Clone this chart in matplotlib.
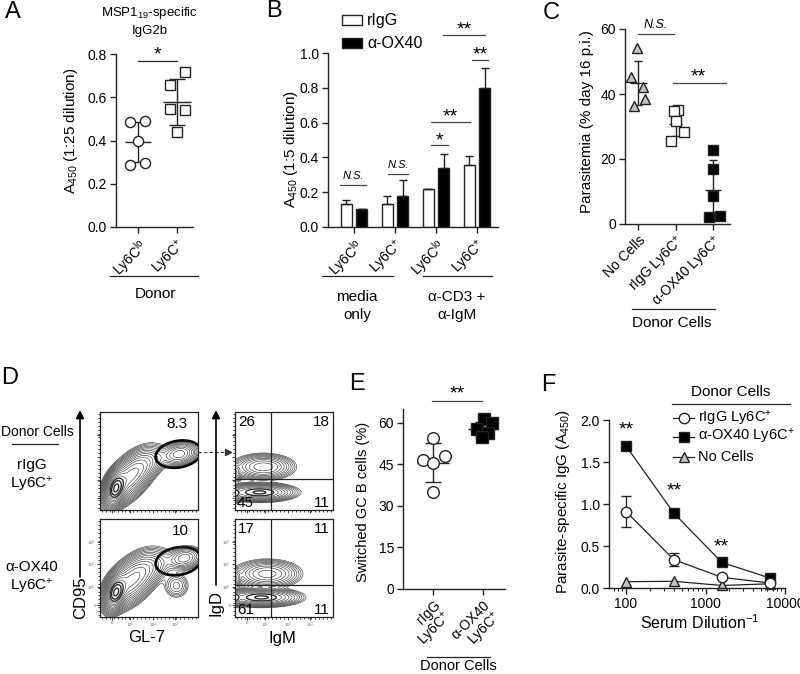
import numpy as np
import matplotlib
matplotlib.use('Agg')
import matplotlib.pyplot as plt
from matplotlib.patches import Rectangle, Ellipse

plt.rcParams['font.family'] = ['Liberation Sans', 'DejaVu Sans']
plt.rcParams['mathtext.fontset'] = 'custom'
plt.rcParams['mathtext.rm'] = 'Liberation Sans'
plt.rcParams['mathtext.it'] = 'Liberation Sans:italic'
plt.rcParams['mathtext.bf'] = 'Liberation Sans:bold'

# ---------------- DATA ----------------
# Panel A
a_groups = [r'Ly6C$^{\mathrm{lo}}$', r'Ly6C$^{+}$']
a_lo = [0.487, 0.490, 0.400, 0.286, 0.297]
a_hi = [0.715, 0.657, 0.546, 0.542, 0.441]
a_mean = [0.392, 0.578]
a_sd = [0.092, 0.106]

# Panel B
b_groups = [r'Ly6C$^{\mathrm{lo}}$', r'Ly6C$^{+}$', r'Ly6C$^{\mathrm{lo}}$', r'Ly6C$^{+}$']
b_rigg = [0.13, 0.13, 0.216, 0.356]
b_rigg_err = [0.027, 0.046, 0.004, 0.052]
b_ox40 = [0.105, 0.18, 0.341, 0.797]
b_ox40_err = [0.0, 0.092, 0.077, 0.119]

# Panel C
c_groups = ['No Cells', r'rIgG Ly6C$^{+}$', r'α-OX40 Ly6C$^{+}$']
c_nocells = [54.2, 45.2, 42.0, 38.6, 36.4]
c_rigg = [35.2, 34.7, 31.8, 28.2, 25.6]
c_ox40 = [22.8, 17.0, 8.7, 2.3, 2.5]
c_mean = [43.4, 30.9, 10.6]
c_sd = [6.9, 3.8, 9.0]

# Panel D (gate percentages)
d_gate = ['8.3', '10']
d_quad_top = [['26', '18'], ['45', '11']]
d_quad_bot = [['17', '11'], ['61', '11']]

# Panel E
e_groups = ['rIgG\n' + r'Ly6C$^{+}$', 'α-OX40\n' + r'Ly6C$^{+}$']
e_rigg = [54.4, 46.6, 48.0, 45.4, 35.0]
e_ox40 = [61.5, 60.0, 57.8, 56.5, 54.8]
e_mean = [45.6, 57.6]
e_sd = [7.0, 2.6]

# Panel F
f_dil = [100, 400, 1600, 6400]
f_rigg = [0.91, 0.337, 0.127, 0.06]
f_rigg_err = [0.18, 0.075, 0.02, 0.01]
f_ox40 = [1.69, 0.89, 0.305, 0.12]
f_nocells = [0.075, 0.08, 0.03, 0.05]

# jitter (horizontal spread of points, in category units)
a_jit = [[-0.21, 0.19, 0.0, -0.21, 0.19], [0.2, -0.19, -0.19, 0.2, 0.0]]
c_jit = [[-0.03, -0.2, 0.13, 0.19, -0.1], [0.07, -0.05, 0.0, 0.21, -0.13], [0.0, 0.0, 0.0, -0.12, 0.19]]
e_jit = [[0.0, -0.2, 0.23, 0.0, 0.0], [0.02, 0.17, -0.12, 0.1, -0.02]]

# ---------------- FIGURE ----------------
W, H = 800, 674
fig = plt.figure(figsize=(8, 6.74), dpi=100)
INK = '#222222'
TICK_FS = 10
LAB_FS = 11
STAR_FS = 14


def add_ax(x0, y0, x1, y1):
    return fig.add_axes([x0 / W, 1 - y1 / H, (x1 - x0) / W, (y1 - y0) / H])


def prism(ax):
    for s in ['top', 'right']:
        ax.spines[s].set_visible(False)
    for s in ['left', 'bottom']:
        ax.spines[s].set_linewidth(1.0)
        ax.spines[s].set_color(INK)
    ax.tick_params(direction='out', length=4.5, width=1.0, color=INK,
                   labelsize=TICK_FS, pad=2, labelcolor='black')
    ax.set_facecolor('none')


def stars(ax, x, y, lab, dy=4):
    ax.annotate(lab, xy=(x, y), xytext=(0, dy), textcoords='offset points',
                ha='center', va='center', fontsize=STAR_FS, annotation_clip=False)


def dotplot(ax, groups_vals, jits, means, sds, markers, faces, ms, halfw, caps):
    for i, vals in enumerate(groups_vals):
        ax.errorbar(i, means[i], yerr=sds[i], color=INK, lw=1, capsize=caps[i],
                    capthick=1, zorder=2)
        ax.hlines(means[i], i - halfw[i], i + halfw[i], color=INK, lw=1, zorder=2)
        ax.plot(np.array(jits[i]) + i, vals, ls='none', marker=markers[i], ms=ms[i],
                mfc=faces[i], mec=INK, mew=1, clip_on=False, zorder=3)


# ---- Panel A
axA = add_ax(116, 54, 193, 227)
prism(axA)
dotplot(axA, [a_lo, a_hi], a_jit, a_mean, a_sd, ['o', 's'], ['white', 'white'],
        [7.3, 7.0], [0.34, 0.37], [4.5, 5.5])
axA.set_xlim(-0.56, 1.41)
axA.set_ylim(0, 0.8)
axA.set_yticks([0, 0.2, 0.4, 0.6, 0.8])
axA.set_yticklabels(['0.0', '0.2', '0.4', '0.6', '0.8'])
axA.set_xticks([0, 1])
axA.set_xticklabels(a_groups, rotation=45, ha='right', rotation_mode='anchor', fontsize=TICK_FS)
axA.plot([0, 1], [0.768, 0.768], color=INK, lw=0.9, clip_on=False)
stars(axA, 0.5, 0.768, '*')

# ---- Panel B
axB = add_ax(328, 53, 498, 227)
prism(axB)
xb = np.arange(4)
ekw = dict(ecolor=INK, elinewidth=1, capsize=3, capthick=1)
axB.bar(xb - 0.19, b_rigg, 0.27, color='white', edgecolor=INK, lw=1,
        yerr=[np.zeros(4), b_rigg_err], error_kw=ekw, zorder=2)
axB.bar(xb + 0.19, b_ox40, 0.27, color='black', edgecolor=INK, lw=1,
        yerr=[np.zeros(4), b_ox40_err], error_kw=ekw, zorder=2)
axB.set_xlim(-0.634, 3.51)
axB.set_ylim(0, 1.0)
axB.set_yticks([0, 0.2, 0.4, 0.6, 0.8, 1.0])
axB.set_yticklabels(['0.0', '0.2', '0.4', '0.6', '0.8', '1.0'])
axB.set_xticks(xb)
axB.set_xticklabels(b_groups, rotation=45, ha='right', rotation_mode='anchor', fontsize=TICK_FS)
sigB = [(-0.34, 0.29, 0.24, 'N.S.'), (0.83, 1.32, 0.306, 'N.S.'),
        (1.88, 2.29, 0.469, '*'), (1.88, 2.83, 0.603, '**'),
        (2.88, 3.27, 0.96, '**'), (2.17, 3.2, 1.105, '**')]
for x0, x1, yv, lab in sigB:
    axB.plot([x0, x1], [yv, yv], color='#444444', lw=0.9, clip_on=False)
    if lab == 'N.S.':
        axB.text((x0 + x1) / 2, yv + 0.022, lab, ha='center', va='bottom', fontsize=8,
                 style='italic', clip_on=False)
    else:
        stars(axB, (x0 + x1) / 2, yv, lab, dy=3.5)

# ---- Panel C
axC = add_ax(625, 29, 730, 224)
prism(axC)
dotplot(axC, [c_nocells, c_rigg, c_ox40], c_jit, c_mean, c_sd, ['^', 's', 's'],
        ['#c4c4c4', 'white', 'black'], [7.5, 7.0, 7.0], [0.23, 0.18, 0.22], [3, 3, 3])
axC.set_xlim(-0.35, 2.45)
axC.set_ylim(0, 60)
axC.set_yticks([0, 20, 40, 60])
axC.set_xticks([0, 1, 2])
axC.set_xticklabels(c_groups, rotation=45, ha='right', rotation_mode='anchor', fontsize=TICK_FS)
axC.plot([0, 0.95], [58.5, 58.5], color='#444444', lw=0.9, clip_on=False)
axC.text(0.47, 59.3, 'N.S.', ha='center', va='bottom', fontsize=9, style='italic', clip_on=False)
axC.plot([0.93, 2.35], [43.4, 43.4], color='#444444', lw=0.9, clip_on=False)
stars(axC, 1.6, 43.4, '**', dy=4.5)

# ---- Panel D (flow cytometry contours)
def blob_density(blobs, n=240):
    xs = np.linspace(0, 1, n)
    X, Y = np.meshgrid(xs, xs)
    Z = np.zeros_like(X)
    for cx, cy, sx, sy, rho, w in blobs:
        dx = (X - cx) / sx
        dy = (Y - cy) / sy
        Z += w * np.exp(-(dx * dx - 2 * rho * dx * dy + dy * dy) / (2 * (1 - rho ** 2)))
    return X, Y, Z

blobs_gl7_top = [(0.16, 0.22, 0.05, 0.08, 0.3, 1.0), (0.30, 0.33, 0.12, 0.13, 0.6, 0.40),
                 (0.45, 0.46, 0.12, 0.09, 0.5, 0.10), (0.81, 0.57, 0.09, 0.06, 0.2, 0.12)]
blobs_gl7_bot = [(0.16, 0.25, 0.05, 0.08, 0.3, 1.0), (0.32, 0.37, 0.13, 0.13, 0.55, 0.40),
                 (0.50, 0.50, 0.12, 0.09, 0.4, 0.08), (0.86, 0.60, 0.09, 0.06, 0.2, 0.12),
                 (0.78, 0.32, 0.07, 0.07, 0.0, 0.05)]
blobs_igm_top = [(0.29, 0.44, 0.12, 0.05, 0.0, 0.55), (0.25, 0.18, 0.14, 0.035, 0.0, 1.0),
                 (0.0, 0.17, 0.03, 0.035, 0.0, 0.7), (0.0, 0.38, 0.03, 0.04, 0.0, 0.3)]
blobs_igm_bot = [(0.33, 0.44, 0.13, 0.055, 0.0, 0.5), (0.27, 0.20, 0.15, 0.035, 0.0, 1.0),
                 (0.0, 0.20, 0.03, 0.035, 0.0, 0.7), (0.0, 0.40, 0.03, 0.04, 0.0, 0.3)]


def flow_ax(box, blobs, bottom_labels, nlev):
    ax = add_ax(*box)
    X, Y, Z = blob_density(blobs)
    Z = Z / Z.max()
    lv = np.geomspace(0.01, 0.9, nlev)
    lws = [0.4 if l < 0.5 else 1.0 for l in lv]
    ax.contour(X, Y, Z, levels=lv, colors='#2a2a2a', linewidths=lws)
    ax.set_xlim(0, 1)
    ax.set_ylim(0, 1)
    for s in ax.spines.values():
        s.set_linewidth(0.9)
        s.set_color(INK)
    ax.set_xticks([0.12, 0.31, 0.54, 0.77])
    ax.set_xticks(np.linspace(0.02, 0.98, 25), minor=True)
    ax.set_yticks([0.12, 0.31, 0.54, 0.77])
    ax.set_yticks(np.linspace(0.02, 0.98, 25), minor=True)
    ax.tick_params(which='both', direction='out', length=2, width=0.6, color=INK, pad=1,
                   labelsize=3.2, labelcolor='#666666')
    ax.tick_params(which='minor', length=1.2)
    if bottom_labels:
        lbl = ['0', r'10$^1$', r'10$^2$', r'10$^3$']
        ax.set_xticklabels(lbl)
        ax.set_yticklabels(lbl)
    else:
        ax.set_xticklabels([])
        ax.set_yticklabels([])
    return ax

axD1 = flow_ax((100, 412, 198, 510), blobs_gl7_top, False, 18)
axD2 = flow_ax((100, 519, 198, 617), blobs_gl7_bot, True, 18)
axD3 = flow_ax((235, 412, 333, 510), blobs_igm_top, False, 12)
axD4 = flow_ax((235, 519, 333, 617), blobs_igm_bot, True, 12)

axD1.add_patch(Ellipse((0.80, 0.57), 0.47, 0.27, angle=10, fill=False, lw=2, ec='black',
                       transform=axD1.transAxes, clip_on=True))
axD2.add_patch(Ellipse((0.80, 0.57), 0.47, 0.28, angle=10, fill=False, lw=2, ec='black',
                       transform=axD2.transAxes, clip_on=True))
axD1.text(0.78, 0.88, d_gate[0], ha='center', va='center', fontsize=11)
axD2.text(0.82, 0.88, d_gate[1], ha='center', va='center', fontsize=11)
for ax, q, hy in [(axD3, d_quad_top, 0.32), (axD4, d_quad_bot, 0.33)]:
    ax.axvline(0.37, color=INK, lw=0.9)
    ax.axhline(hy, color=INK, lw=0.9)
    ax.text(0.03, 0.9, q[0][0], ha='left', va='center', fontsize=11)
    ax.text(0.97, 0.9, q[0][1], ha='right', va='center', fontsize=11)
    ax.text(0.02, 0.07, q[1][0], ha='left', va='center', fontsize=11)
    ax.text(0.97, 0.07, q[1][1], ha='right', va='center', fontsize=11)

# ---- Panel E
axE = add_ax(403, 409, 505, 589)
prism(axE)
dotplot(axE, [e_rigg, e_ox40], e_jit, e_mean, e_sd, ['o', 's'], ['white', 'black'],
        [8.4, 9.0], [0.32, 0.3], [6, 6])
axE.set_xlim(-0.6, 1.44)
axE.set_ylim(0, 65)
axE.set_yticks([0, 15, 30, 45, 60])
axE.set_xticks([0, 1])
axE.set_xticklabels(e_groups, rotation=45, ha='right', rotation_mode='anchor', fontsize=TICK_FS,
                    multialignment='right', linespacing=1.0)
axE.plot([-0.02, 0.98], [68, 68], color='#444444', lw=0.9, clip_on=False)
stars(axE, 0.48, 68, '**', dy=4.5)

# ---- Panel F
axF = add_ax(609, 420, 785, 588)
prism(axF)
axF.set_xscale('log')
axF.plot(f_dil, f_nocells, color=INK, lw=0.9, marker='^', ms=7.5, mfc='#c4c4c4', mec=INK,
         mew=1, zorder=2, clip_on=False)
axF.plot(f_dil, f_ox40, color=INK, lw=0.9, marker='s', ms=6.5, mfc='black', mec=INK,
         mew=1, zorder=3, clip_on=False)
axF.errorbar(f_dil, f_rigg, yerr=f_rigg_err, color=INK, lw=0.9, marker='o', ms=7.5,
             mfc='white', mec=INK, mew=1, capsize=3.5, capthick=1, zorder=4, clip_on=False)
axF.set_xlim(61, 10000)
axF.set_ylim(0, 2.0)
axF.set_yticks([0, 0.5, 1.0, 1.5, 2.0])
axF.set_yticklabels(['0.0', '0.5', '1.0', '1.5', '2.0'])
axF.set_xticks([100, 1000, 10000])
axF.set_xticklabels(['100', '1000', '10000'])
axF.tick_params(which='minor', direction='out', length=2.5, width=0.8, color=INK)
for xv, yv in [(100, 1.94), (400, 1.21), (1600, 0.55)]:
    stars(axF, xv, yv, '**', dy=-3.5)

# ---------------- OVERLAY (labels, legends, grouping lines) ----------------
ov = fig.add_axes([0, 0, 1, 1])
ov.set_xlim(0, W)
ov.set_ylim(H, 0)
ov.axis('off')
ov.set_zorder(10)
ov.patch.set_visible(False)

def T(x, y, s, **kw):
    kw.setdefault('ha', 'center')
    kw.setdefault('va', 'center')
    kw.setdefault('fontsize', LAB_FS)
    ov.text(x, y, s, **kw)

def L(x0, x1, y, lw=0.9):
    ov.plot([x0, x1], [y, y], color=INK, lw=lw)

# panel letters
for lab, x, y in [('A', 13, 12), ('B', 274, 11), ('C', 551, 13), ('D', 10, 378),
                  ('E', 357, 384), ('F', 548, 385)]:
    T(x, y, lab, fontsize=17)

# A
T(150, 13, r'MSP1$_{\mathrm{19}}$-specific', fontsize=9.5)
T(150, 31, 'IgG2b', fontsize=9.5)
T(71, 131, r'A$_{\mathrm{450}}$ (1:25 dilution)', rotation=90)
L(110, 198, 276)
T(155, 294, 'Donor')

# B
T(291, 149, r'A$_{\mathrm{450}}$ (1:5 dilution)', rotation=90)
ov.add_patch(Rectangle((342, 15), 20, 10, fc='white', ec=INK, lw=1))
ov.add_patch(Rectangle((342, 38), 20, 10, fc='black', ec=INK, lw=1))
T(367, 20, 'rIgG', ha='left', fontsize=11.5)
T(367, 43, 'α-OX40', ha='left', fontsize=11.5)
L(322, 393, 276)
L(423, 492, 276)
T(357, 306, 'media\nonly', linespacing=1.35)
T(457, 306, 'α-CD3 +\nα-IgM', linespacing=1.35)

# C
T(587, 122, 'Parasitemia (% day 16 p.i.)', rotation=90)
L(632, 715, 309)
T(672, 323, 'Donor Cells')

# D
ov.annotate('', xy=(80, 410), xytext=(80, 577),
            arrowprops=dict(arrowstyle='-|>', lw=1.2, color='black', mutation_scale=12,
                            shrinkA=0, shrinkB=0))
ov.annotate('', xy=(216, 410), xytext=(216, 585),
            arrowprops=dict(arrowstyle='-|>', lw=1.2, color='black', mutation_scale=12,
                            shrinkA=0, shrinkB=0))
T(81, 598, 'CD95', rotation=90, fontsize=12)
T(216, 603, 'IgD', rotation=90, fontsize=12)
T(147, 638, 'GL-7', fontsize=12)
T(282, 638, 'IgM', fontsize=12)
ov.plot([198, 226], [452, 452], color='#333333', lw=0.8, ls=(0, (3, 2)))
ov.plot([228], [452], marker='>', ms=4, color='#333333')
T(37, 432, 'Donor Cells', fontsize=10)
L(12, 58, 444)
T(32, 476, 'rIgG\n' + r'Ly6C$^{+}$', fontsize=11, linespacing=1.25)
T(32, 578, 'α-OX40\n' + r'Ly6C$^{+}$', fontsize=11, linespacing=1.25)

# E
T(363, 502, 'Switched GC B cells (%)', rotation=90, fontsize=10.5)
L(427, 490, 657)
T(458, 666, 'Donor Cells', fontsize=10.5)

# F
T(563, 502, r'Parasite-specific IgG (A$_{\mathrm{450}}$)', rotation=90)
T(700, 623, r'Serum Dilution$^{-1}$', fontsize=11.5)
T(731, 392, 'Donor Cells')
L(672, 790, 404)
leg = [(418, 'o', 'white', r'rIgG Ly6C$^{+}$'), (437, 's', 'black', r'α-OX40 Ly6C$^{+}$'),
       (457, '^', '#c4c4c4', 'No Cells')]
for y, m, fc, lab in leg:
    ov.plot([673, 694], [y, y], color=INK, lw=0.9)
    ov.plot([684], [y], marker=m, ms=7.5, mfc=fc, mec=INK, mew=1)
    T(698, y, lab, ha='left', fontsize=10.5)

fig.savefig('out.png', dpi=100)
